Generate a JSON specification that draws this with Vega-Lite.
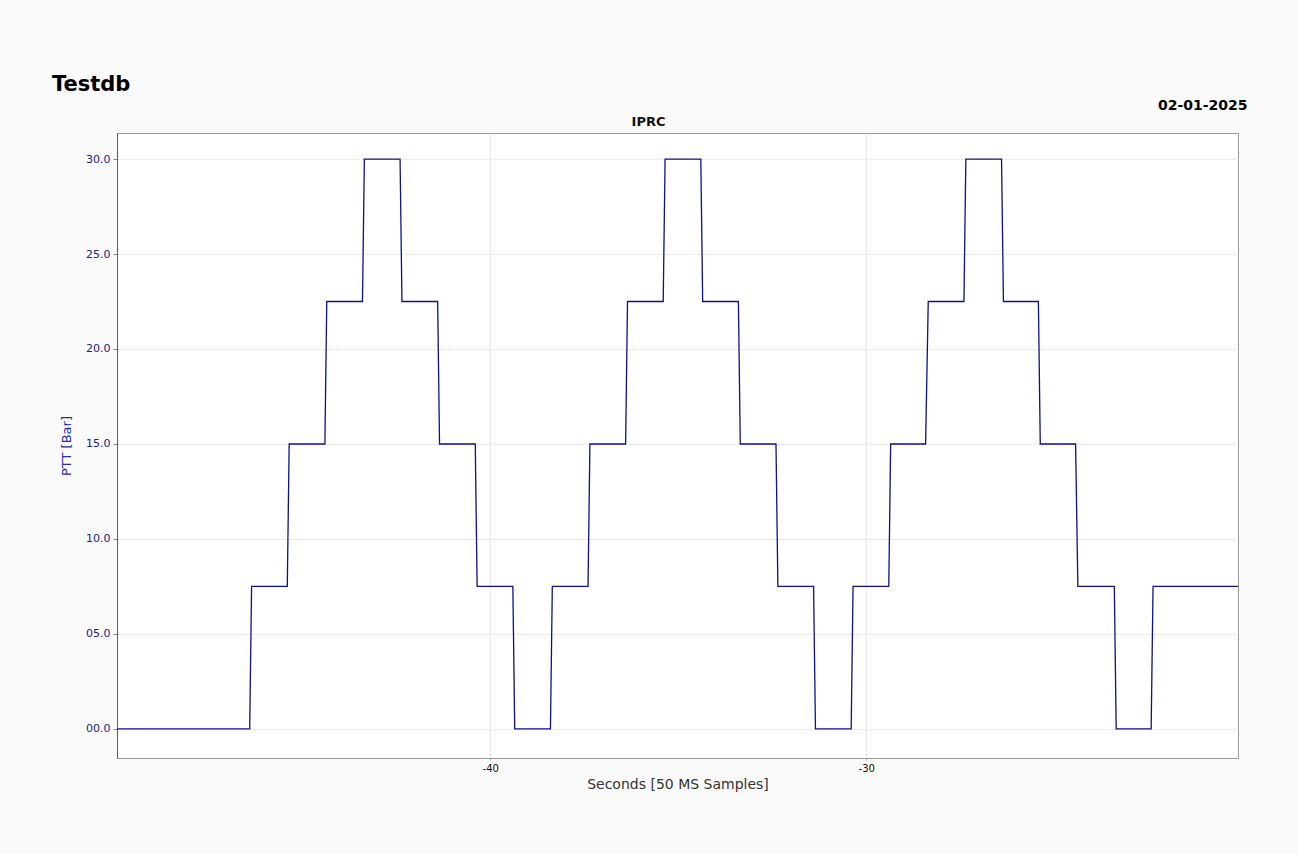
{
  "$schema": "https://vega.github.io/schema/vega-lite/v6.json",
  "autosize": "none",
  "width": 1121,
  "height": 625,
  "padding": {"left": 117, "top": 133, "right": 60, "bottom": 96},
  "background": "#fafafa",
  "title": {
    "text": "Testdb",
    "anchor": "start",
    "frame": "group",
    "dx": -65,
    "offset": -14,
    "baseline": "alphabetic",
    "font": "DejaVu Sans",
    "fontSize": 21,
    "fontWeight": "bold",
    "color": "#000000"
  },
  "config": {
    "view": {"fill": "#ffffff", "stroke": "#9a9a9a", "strokeWidth": 1},
    "font": "DejaVu Sans",
    "axis": {"labelFont": "DejaVu Sans", "titleFont": "DejaVu Sans"}
  },
  "data": {
    "values": [
      {"t": -49.93, "ptt": 0},
      {"t": -46.40, "ptt": 0},
      {"t": -46.35, "ptt": 7.5},
      {"t": -45.40, "ptt": 7.5},
      {"t": -45.35, "ptt": 15},
      {"t": -44.40, "ptt": 15},
      {"t": -44.35, "ptt": 22.5},
      {"t": -43.40, "ptt": 22.5},
      {"t": -43.35, "ptt": 30},
      {"t": -42.40, "ptt": 30},
      {"t": -42.35, "ptt": 22.5},
      {"t": -41.40, "ptt": 22.5},
      {"t": -41.35, "ptt": 15},
      {"t": -40.40, "ptt": 15},
      {"t": -40.35, "ptt": 7.5},
      {"t": -39.40, "ptt": 7.5},
      {"t": -39.35, "ptt": 0},
      {"t": -38.40, "ptt": 0},
      {"t": -38.35, "ptt": 7.5},
      {"t": -37.40, "ptt": 7.5},
      {"t": -37.35, "ptt": 15},
      {"t": -36.40, "ptt": 15},
      {"t": -36.35, "ptt": 22.5},
      {"t": -35.40, "ptt": 22.5},
      {"t": -35.35, "ptt": 30},
      {"t": -34.40, "ptt": 30},
      {"t": -34.35, "ptt": 22.5},
      {"t": -33.40, "ptt": 22.5},
      {"t": -33.35, "ptt": 15},
      {"t": -32.40, "ptt": 15},
      {"t": -32.35, "ptt": 7.5},
      {"t": -31.40, "ptt": 7.5},
      {"t": -31.35, "ptt": 0},
      {"t": -30.40, "ptt": 0},
      {"t": -30.35, "ptt": 7.5},
      {"t": -29.40, "ptt": 7.5},
      {"t": -29.35, "ptt": 15},
      {"t": -28.42, "ptt": 15},
      {"t": -28.35, "ptt": 22.5},
      {"t": -27.40, "ptt": 22.5},
      {"t": -27.35, "ptt": 30},
      {"t": -26.40, "ptt": 30},
      {"t": -26.35, "ptt": 22.5},
      {"t": -25.42, "ptt": 22.5},
      {"t": -25.37, "ptt": 15},
      {"t": -24.43, "ptt": 15},
      {"t": -24.37, "ptt": 7.5},
      {"t": -23.40, "ptt": 7.5},
      {"t": -23.35, "ptt": 0},
      {"t": -22.42, "ptt": 0},
      {"t": -22.37, "ptt": 7.5},
      {"t": -20.11, "ptt": 7.5}
    ]
  },
  "layer": [
    {
      "mark": {"type": "line", "color": "#10108a", "strokeWidth": 1.3, "interpolate": "linear"},
      "encoding": {
        "x": {
          "field": "t",
          "type": "quantitative",
          "scale": {"domain": [-49.93, -20.11], "nice": false, "zero": false},
          "axis": {
            "orient": "bottom",
            "values": [-40, -30],
            "format": "d",
            "labelExpr": "replace(datum.label, '\u2212', '-')",
            "title": "Seconds [50 MS Samples]",
            "titleFontSize": 14,
            "titleFontWeight": "normal",
            "titleColor": "#333333",
            "titlePadding": 4,
            "labelFontSize": 10,
            "labelColor": "#111111",
            "labelPadding": 3,
            "tickSize": 2,
            "tickColor": "#aaaaaa",
            "domainColor": "#9a9a9a",
            "grid": true,
            "gridColor": "#dadada",
            "gridDash": [2, 2],
            "gridWidth": 1
          }
        },
        "y": {
          "field": "ptt",
          "type": "quantitative",
          "scale": {"domain": [-1.53, 31.37], "nice": false, "zero": false},
          "axis": {
            "orient": "left",
            "values": [0, 5, 10, 15, 20, 25, 30],
            "format": "04.1f",
            "title": "PTT [Bar]",
            "titleFontSize": 13,
            "titleFontWeight": "normal",
            "titleColor": "#2a2a9a",
            "titlePadding": 12,
            "labelFontSize": 11,
            "labelColor": "#22227a",
            "labelPadding": 3,
            "tickSize": 4,
            "tickColor": "#888888",
            "domainColor": "#5050b0",
            "grid": true,
            "gridColor": "#dadada",
            "gridDash": [2, 2],
            "gridWidth": 1
          }
        }
      }
    },
    {
      "mark": {"type": "line", "strokeOpacity": 0},
      "encoding": {
        "x": {
          "field": "t",
          "type": "quantitative",
          "axis": {
            "orient": "top",
            "title": "IPRC",
            "labels": false,
            "ticks": false,
            "domain": false,
            "grid": false,
            "titleX": 531,
            "titleY": -8,
            "titleAlign": "center",
            "titleBaseline": "alphabetic",
            "titleAngle": 0,
            "titleFontSize": 13,
            "titleFontWeight": "bold",
            "titleColor": "#111111"
          }
        },
        "y": {
          "field": "ptt",
          "type": "quantitative",
          "axis": {
            "orient": "right",
            "title": "02-01-2025",
            "labels": false,
            "ticks": false,
            "domain": false,
            "grid": false,
            "titleX": 9,
            "titleY": -24,
            "titleAlign": "right",
            "titleBaseline": "alphabetic",
            "titleAngle": 0,
            "titleFontSize": 14,
            "titleFontWeight": "bold",
            "titleColor": "#000000"
          }
        }
      }
    }
  ]
}
